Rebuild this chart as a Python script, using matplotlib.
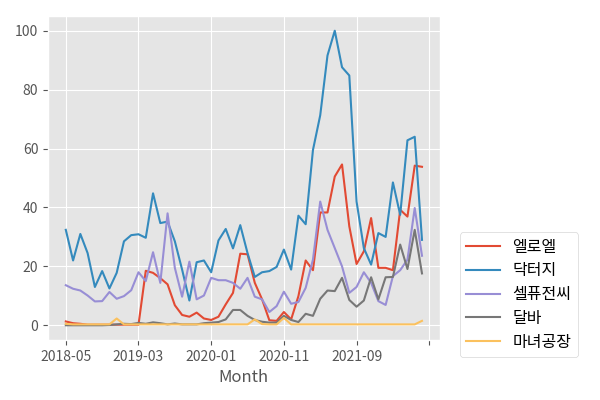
import numpy as np
import pandas as pd
import matplotlib
matplotlib.use("Agg")
import matplotlib.pyplot as plt

plt.style.use("ggplot")
plt.rcParams["font.family"] = ["Noto Sans CJK KR", "DejaVu Sans"]

months = pd.period_range("2018-05", periods=50, freq="M").strftime("%Y-%m").tolist()

yellowel = [1.3, 0.7, 0.5, 0.2, 0.2, 0.2, 0.2, 0.2, 0.2, 0.2,
            0.2, 18.5, 17.8, 16, 13.9, 6.8, 3.5, 2.9, 4.3, 2.3,
            1.8, 2.9, 7.1, 11, 24.3, 24.1, 14.4, 8.8, 1.7, 1.5,
            4.5, 2, 9.9, 22, 18.7, 38.3, 38.3, 50.5, 54.6, 33.6,
            20.8, 25.1, 36.4, 19.5, 19.5, 18.7, 39.2, 36.9, 54.2, 53.8]
doctorg = [32.4, 22, 31, 24.5, 13, 18.4, 12.5, 17.8, 28.5, 30.6,
           30.9, 29.7, 44.8, 34.7, 35.2, 28.5, 18.9, 8.4, 21.4, 22,
           18, 28.8, 32.7, 26.1, 34, 24.5, 16.4, 18, 18.4, 19.8,
           25.7, 18.9, 37.2, 34.3, 59.5, 71.3, 91.6, 100, 87.6, 84.8,
           42, 26.2, 20.6, 31.3, 30, 48.5, 37.5, 62.8, 64, 29]
cellfusionc = [13.6, 12.4, 11.8, 10.1, 8.1, 8.2, 11.3, 9, 9.9, 11.9,
               18, 15, 24.8, 14.4, 38, 19.5, 9.7, 21.6, 8.8, 10.1,
               16.1, 15.3, 15.3, 14.4, 12.4, 16.1, 9.7, 8.8, 4.5, 6.5,
               11.4, 7.3, 7.9, 12.7, 22.3, 42, 32.4, 26.2, 20, 11,
               13, 18, 14.4, 8.2, 6.9, 16.7, 18.7, 22.3, 39.8, 23.6]
dalba = [0, 0, 0, 0, 0, 0, 0.1, 0.3, 0.5, 0.4,
         0.8, 0.5, 1, 0.7, 0.3, 0.6, 0.3, 0.3, 0.3, 0.7,
         0.9, 1.1, 2, 5.2, 5.2, 3.2, 1.8, 1.2, 0.9, 0.9,
         3.2, 1.8, 1.1, 3.9, 3.2, 9, 11.8, 11.6, 16.1, 8.6,
         6.3, 8.4, 16.3, 8.8, 16.3, 16.4, 27.4, 19.1, 32.4, 17.6]
witchfactory = [0.5, 0.3, 0.3, 0.3, 0.3, 0.3, 0.3, 2.3, 0.3, 0.3,
                0.3, 0.3, 0.3, 0.3, 0.3, 0.3, 0.3, 0.3, 0.3, 0.3,
                0.3, 0.3, 0.3, 0.3, 0.3, 0.3, 2, 0.4, 0.3, 0.3,
                2.5, 0.3, 0.3, 0.3, 0.3, 0.3, 0.3, 0.3, 0.3, 0.3,
                0.3, 0.3, 0.3, 0.3, 0.3, 0.3, 0.3, 0.3, 0.3, 1.5]

series = {
    "엘로엘": yellowel,
    "닥터지": doctorg,
    "셀퓨전씨": cellfusionc,
    "달바": dalba,
    "마녀공장": witchfactory,
}

fig = plt.figure(figsize=(6, 4), dpi=100)
ax = fig.add_axes([0.08, 0.15, 0.653, 0.81])

x = np.arange(len(months))
for name, vals in series.items():
    ax.plot(x, vals, label=name)

ticks = list(range(0, 51, 10))
ax.set_xticks(ticks)
ax.set_xticklabels([months[t] if t < len(months) else "" for t in ticks])
ax.set_xlabel("Month")

ax.legend(loc="lower left", bbox_to_anchor=(0.766, 0.1075),
          bbox_transform=fig.transFigure, borderaxespad=0,
          fontsize=11.5, handlelength=2.1, labelspacing=0.42,
          facecolor="white")

fig.savefig("out.png")
